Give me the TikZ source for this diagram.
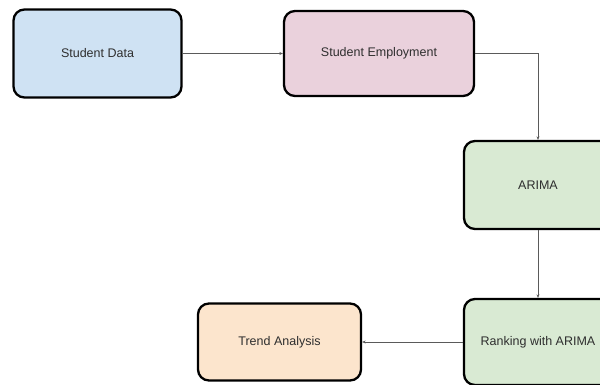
\documentclass[tikz,border=0pt]{standalone}
\usepackage{fontspec}
\setmainfont{Liberation Sans}
\usetikzlibrary{arrows.meta}
\definecolor{dataBlue}{HTML}{CFE2F3}
\definecolor{empPink}{HTML}{EAD1DC}
\definecolor{modelGreen}{HTML}{D9EAD3}
\definecolor{trendPeach}{HTML}{FCE5CD}
\definecolor{labelGray}{HTML}{2E2E2E}
\definecolor{linkGray}{HTML}{5A5A5A}
\tikzset{
  stage/.style={draw=black, line width=2.3pt, rounded corners=11pt,
    inner sep=0pt, text=labelGray, font=\fontsize{12.5}{14}\selectfont},
  link/.style={draw=linkGray, line width=0.8pt,
    -{Stealth[length=3.5pt,width=3pt]}}
}
\begin{document}
\begin{tikzpicture}[x=1pt,y=-1pt]
  \useasboundingbox (0,0) rectangle (600,385);
  \fill[white] (0,0) rectangle (600,385);
  \clip (0,0) rectangle (600,385);

  \node[stage, fill=dataBlue, minimum width=168pt, minimum height=88pt]
    (data) at (97.5,53.5) {Student Data};
  \node[stage, fill=empPink, minimum width=190pt, minimum height=85pt]
    (emp) at (379,53.5) {Student Employment};
  \node[stage, fill=modelGreen, minimum width=148pt, minimum height=88pt]
    (arima) at (538,185) {ARIMA};
  \node[stage, fill=modelGreen, minimum width=148pt, minimum height=86pt]
    (rank) at (538,342) {Ranking with ARIMA};
  \node[stage, fill=trendPeach, minimum width=163pt, minimum height=77pt]
    (trend) at (279.5,342) {Trend Analysis};

  \draw[link] (data.east) -- (emp.west);
  \draw[link] (emp.east) -| (arima.north);
  \draw[link] (arima.south) -- (rank.north);
  \draw[link] (rank.west) -- (trend.east);
\end{tikzpicture}
\end{document}
